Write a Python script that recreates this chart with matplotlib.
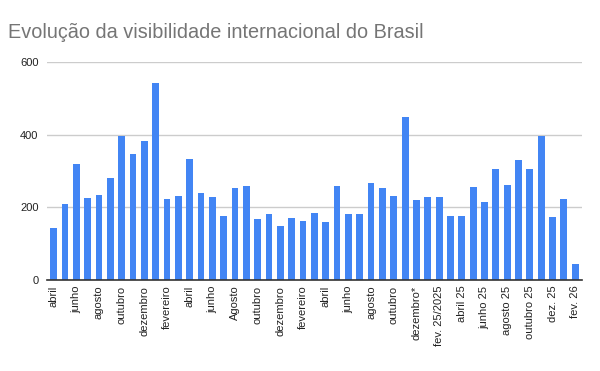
import matplotlib
matplotlib.use("Agg")
import matplotlib.pyplot as plt
import numpy as np

plt.rcParams["font.family"] = ["Liberation Sans", "DejaVu Sans"]

# categorias (meses) e valores
meses = [
    "abril", "maio", "junho", "julho", "agosto", "setembro", "outubro",
    "novembro", "dezembro", "janeiro", "fevereiro", "março",
    "abril", "maio", "junho", "julho", "Agosto", "setembro", "outubro",
    "novembro", "dezembro", "janeiro", "fevereiro", "março",
    "abril", "maio", "junho", "julho", "agosto", "setembro", "outubro",
    "novembro", "dezembro*", "janeiro", "fev. 25/2025", "março 25",
    "abril 25", "maio 25", "junho 25", "julho 25", "agosto 25",
    "setembro 25", "outubro 25", "nov. 25", "dez. 25", "jan. 26", "fev. 26",
]
valores = [
    144, 210, 320, 226, 235, 281, 396, 347, 383, 542, 224, 232,
    333, 240, 229, 177, 254, 259, 169, 183, 148, 172, 163, 185,
    161, 259, 183, 183, 268, 254, 232, 448, 221, 229, 229, 177,
    177, 257, 216, 306, 262, 331, 306, 396, 174, 224, 43,
]
yticks = [0, 200, 400, 600]

fig = plt.figure(figsize=(6, 3.71), dpi=100)
ax = fig.add_axes([0.078, 0.245, 0.892, 0.588])

x = np.arange(len(meses))
ax.bar(x, valores, width=0.6, color="#4285F4", zorder=3)

ax.set_ylim(0, 600)
ax.set_xlim(-0.6, len(meses) - 0.4)
ax.set_yticks(yticks)
ax.set_yticklabels([str(v) for v in yticks], fontsize=8, color="#222222")
ax.yaxis.grid(True, color="#cccccc", linewidth=1, zorder=0)
ax.tick_params(axis="y", length=0, pad=6)

ax.set_xticks(x[::2])
ax.set_xticklabels(meses[::2], rotation=90, fontsize=8, color="#222222")
ax.tick_params(axis="x", length=0, pad=4)

for s in ["top", "right", "left"]:
    ax.spines[s].set_visible(False)
ax.spines["bottom"].set_color("#333333")
ax.spines["bottom"].set_linewidth(1.2)
ax.spines["bottom"].set_zorder(4)

fig.text(0.013, 0.912, "Evolução da visibilidade internacional do Brasil",
         fontsize=14.3, color="#757575", ha="left", va="center")

fig.savefig("out.png", dpi=100)
